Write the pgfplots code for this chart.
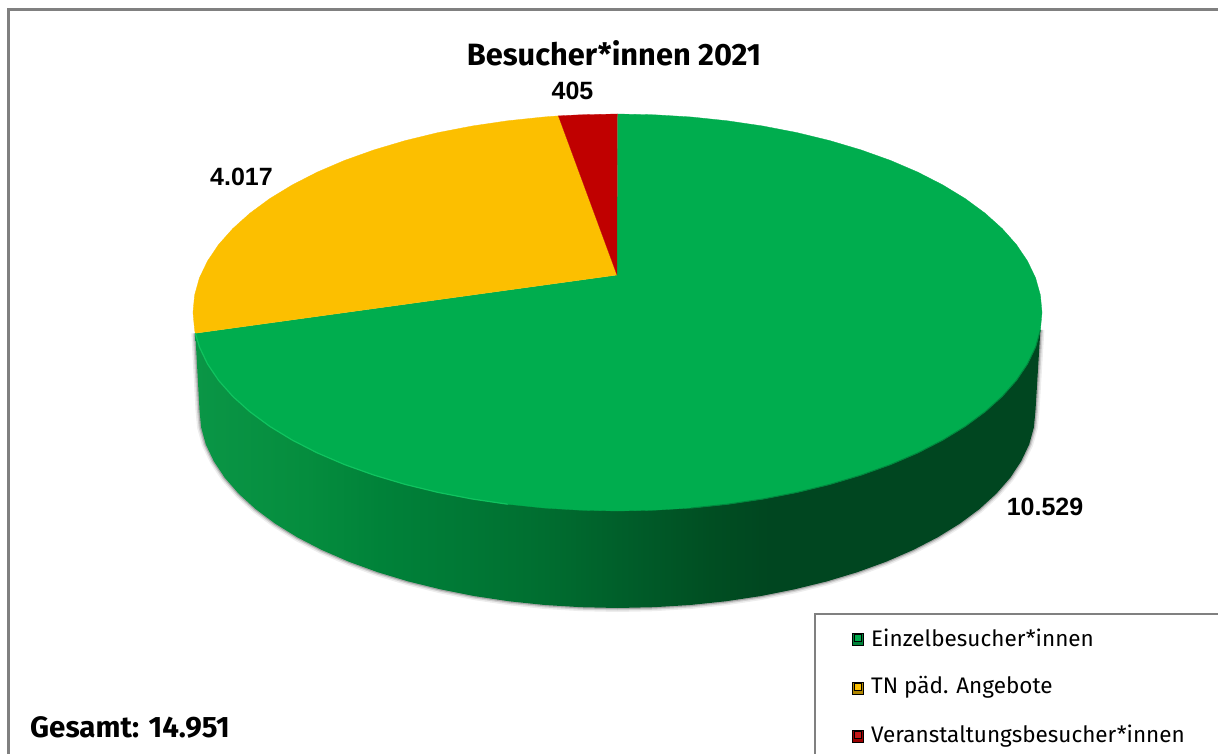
\documentclass[border=0pt]{standalone}
\usepackage{pgfplots}
\usepackage{pgfplotstable}
\usepackage{fontspec}
\pgfplotsset{compat=1.18}
\setmainfont{Fira Sans}
\newfontfamily\labelfont{Liberation Sans}

\definecolor{topGreen}{RGB}{0,173,78}
\definecolor{topYellow}{RGB}{252,191,0}
\definecolor{topRed}{RGB}{192,0,0}
\definecolor{frameGrey}{RGB}{128,128,128}
\definecolor{rimLight}{RGB}{16,195,95}
\definecolor{rimDark}{RGB}{0,135,62}
\definecolor{wa}{RGB}{10,150,70}
\definecolor{wb}{RGB}{5,141,62}
\definecolor{wc}{RGB}{0,130,57}
\definecolor{wd}{RGB}{0,120,53}
\definecolor{we}{RGB}{0,110,48}
\definecolor{wf}{RGB}{0,92,41}
\definecolor{wg}{RGB}{0,78,34}
\definecolor{wh}{RGB}{0,70,32}

% Side wall of the pie: dark towards the right, bbox maps to 25bp..75bp
\pgfdeclarehorizontalshading{wallshade}{100bp}{
  color(0bp)=(wa); color(25bp)=(wa); color(31.5bp)=(wb); color(36bp)=(wc);
  color(41bp)=(wd); color(45.5bp)=(we); color(51bp)=(wf); color(55.5bp)=(wg);
  color(59bp)=(wh); color(75bp)=(wh); color(100bp)=(wh)}

% Slice outlines on the top face, in pixel coordinates (y grows downwards)
\pgfplotstableread{
x y
617 275
617.5 114
654.5 114.8
691.2 117.0
727.4 120.8
762.7 126.0
796.9 132.6
829.75 140.6
861 149.9
890.4 160.4
917.7 172.1
942.7 184.9
965.2 198.6
985.1 213.25
1002.2 228.6
1016.4 244.6
1027.5 261.1
1035.6 278.0
1040.4 295.2
1042 312.5
1040.4 329.8
1035.6 347.0
1027.5 363.9
1016.4 380.4
1002.2 396.4
985.1 411.75
965.2 426.4
942.7 440.1
917.7 452.9
890.4 464.6
861 475.1
829.75 484.4
796.9 492.4
762.7 499.0
727.4 504.2
691.2 508.0
654.5 510.2
617.5 511
580.5 510.2
543.8 508.0
507.6 504.2
472.3 499.0
438.1 492.4
405.25 484.4
374 475.1
344.6 464.6
317.3 452.9
292.3 440.1
269.8 426.4
249.9 411.75
232.8 396.4
218.6 380.4
207.5 363.9
199.4 347.0
195.3 333.25
}\sliceEinzel

\pgfplotstableread{
x y
617 275
195.3 333.25
194.6 329.8
193 312.5
194.6 295.2
199.4 278.0
207.5 261.1
218.6 244.6
232.8 228.6
249.9 213.25
269.8 198.6
292.3 184.9
317.3 172.1
344.6 160.4
374 149.9
405.25 140.6
438.1 132.6
472.3 126.0
507.6 120.8
543.8 117.0
558.4 115.9
}\sliceTN

\pgfplotstableread{
x y
617 275
558.4 115.9
580.5 114.8
617.5 114
}\sliceVeranstaltung

% Outer silhouette of the side wall
\pgfplotstableread{
x y
1040.4 329.8
1035.5 410
1033.9 427.3
1029.2 444.4
1021.2 461.2
1010.3 477.7
996.3 493.7
979.5 509
959.9 523.6
937.7 537.3
913.1 550
886.2 561.7
857.3 572.2
826.5 581.5
794.2 589.4
760.5 596.1
725.7 601.3
690.1 605
653.9 607.2
617.5 608
581.1 607.2
544.9 605
509.3 601.3
474.5 596.1
440.8 589.4
408.5 581.5
377.7 572.2
348.8 561.7
321.9 550
297.3 537.3
275.1 523.6
255.5 509
238.7 493.7
224.7 477.7
213.8 461.2
205.8 444.4
201.1 427.3
199.5 410
195.3 333.25
}\wallOutline

% Bevel along the front edge of the top face
\pgfplotstableread{
x y
195.3 333.25
199.4 347.0
207.5 363.9
218.6 380.4
232.8 396.4
249.9 411.75
269.8 426.4
292.3 440.1
317.3 452.9
344.6 464.6
374 475.1
405.25 484.4
438.1 492.4
472.3 499.0
507.6 504.2
}\rimLeft

\pgfplotstableread{
x y
691.2 508.0
727.4 504.2
762.7 499.0
796.9 492.4
829.75 484.4
861 475.1
890.4 464.6
917.7 452.9
942.7 440.1
965.2 426.4
985.1 411.75
1002.2 396.4
1016.4 380.4
1027.5 363.9
1035.6 347.0
1040.4 329.8
}\rimRight

\begin{document}
\begin{tikzpicture}
\begin{axis}[
  scale only axis, width=1218pt, height=754pt,
  xmin=0, xmax=1218, ymin=0, ymax=754, y dir=reverse,
  hide axis, clip=true]

  % white page background, fixes the extent of the picture
  \addplot[draw=none, fill=white, forget plot] coordinates {(0,0) (1218,0) (1218,754) (0,754)};

  % chart frame, running off the right and lower edge
  \addplot[draw=frameGrey, line width=3pt, forget plot] coordinates {(8,754) (8,10) (1218,10)};

  % soft shadow beneath the wall
  \addplot[draw=black, opacity=.07, line width=8pt, forget plot] table {\wallOutline};
  \addplot[draw=black, opacity=.12, line width=5pt, forget plot] table {\wallOutline};
  \addplot[draw=black, opacity=.20, line width=2.5pt, forget plot] table {\wallOutline};

  % side wall
  \addplot[draw=none, shade, shading=wallshade, forget plot] table {\wallOutline};

  % top face: 10.529, 4.017 and 405 visitors
  \addplot[fill=topGreen, draw=topGreen, line width=.3pt, forget plot] table {\sliceEinzel};
  \addplot[fill=topYellow, draw=topYellow, line width=.3pt, forget plot] table {\sliceTN};
  \addplot[fill=topRed, draw=topRed, line width=.3pt, forget plot] table {\sliceVeranstaltung};

  \addplot[draw=rimLight, line width=1.2pt, forget plot] table {\rimLeft};
  \addplot[draw=rimDark, line width=1pt, forget plot] table {\rimRight};

  % legend box
  \addplot[draw=frameGrey, line width=2.5pt, fill=white, forget plot] coordinates {(815,754) (815,614) (1218,614)};

  \addplot[only marks, mark=square*, mark size=5.7pt, mark options={fill=wc, draw=none}, forget plot] coordinates {(857.5,639)};
  \addplot[only marks, mark=square*, mark size=5.7pt, mark options={fill=topYellow!70!black, draw=none}, forget plot] coordinates {(857.5,688)};
  \addplot[only marks, mark=square*, mark size=5.7pt, mark options={fill=topRed!80!black, draw=none}, forget plot] coordinates {(857.5,736)};
  \addplot[only marks, mark=square*, mark size=3.5pt, mark options={fill=topGreen, draw=none}, forget plot] coordinates {(857.5,638)};
  \addplot[only marks, mark=square*, mark size=3.5pt, mark options={fill=topYellow, draw=none}, forget plot] coordinates {(857.5,687)};
  \addplot[only marks, mark=square*, mark size=3.5pt, mark options={fill=topRed!90!white, draw=none}, forget plot] coordinates {(857.5,735)};

  \node[font=\fontsize{30.8}{34}\selectfont\bfseries, inner sep=0pt] at (axis cs:614,53) {Besucher*innen 2021};
  \node[font=\labelfont\fontsize{25}{30}\selectfont\bfseries, inner sep=0pt] at (axis cs:572.5,90.5) {405};
  \node[font=\labelfont\fontsize{25}{30}\selectfont\bfseries, inner sep=0pt] at (axis cs:241.5,177) {4.017};
  \node[font=\labelfont\fontsize{25}{30}\selectfont\bfseries, inner sep=0pt] at (axis cs:1045,507) {10.529};
  \node[font=\fontsize{29.5}{34}\selectfont\bfseries, anchor=west, inner sep=0pt] at (axis cs:30,727) {Gesamt: 14.951};
  \node[font=\fontsize{22.5}{26}\selectfont, anchor=west, inner sep=0pt] at (axis cs:871,638) {Einzelbesucher*innen};
  \node[font=\fontsize{22.5}{26}\selectfont, anchor=west, inner sep=0pt] at (axis cs:871,687) {TN päd. Angebote};
  \node[font=\fontsize{22.5}{26}\selectfont, anchor=west, inner sep=0pt] at (axis cs:871,736) {Veranstaltungsbesucher*innen};
\end{axis}
\end{tikzpicture}
\end{document}
